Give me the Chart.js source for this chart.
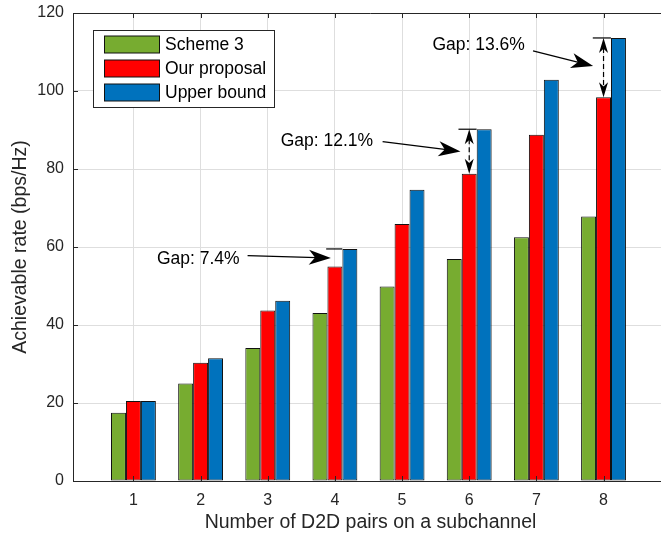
<!DOCTYPE html>
<html>
<head>
<meta charset="utf-8">
<style>
  html, body { margin: 0; padding: 0; background: #fff; overflow: hidden; }
</style>
<script src="https://cdn.jsdelivr.net/npm/chart.js@4.4.1/dist/chart.umd.min.js"></script>
</head>
<body>
<canvas id="myChart" width="668" height="540"></canvas>
<script>
"use strict"

// DATA
const categories = [1, 2, 3, 4, 5, 6, 7, 8];
const scheme3 = [17.5, 25.0, 34.1, 43.1, 49.9, 56.9, 62.5, 67.8];
const ourProposal = [20.5, 30.3, 43.7, 55.0, 65.9, 78.8, 88.8, 98.4];
const upperBound = [20.5, 31.5, 46.2, 59.5, 74.7, 90.2, 102.9, 113.6];
const seriesNames = ['Scheme 3', 'Our proposal', 'Upper bound'];
const yTicks = [0, 20, 40, 60, 80, 100, 120];

const gapLabels = ['Gap: 7.4%', 'Gap: 12.1%', 'Gap: 13.6%'];
const gapGroups = [4, 6, 8];

// annotation placement (data units)
const gapNotes = [
    { label: 0, textAt: [1.965, 56.8], from: [2.70, 57.8], to: [3.94, 57.2], lineFrom: -0.13, double: false },
    { label: 1, textAt: [3.88, 87.2], from: [4.71, 87.0], to: [5.87, 84.5], lineFrom: -0.16, double: true },
    { label: 2, textAt: [6.14, 111.8], from: [6.95, 110.3], to: [7.845, 106.4], lineFrom: -0.16, double: true }
];

const FONT = '"Liberation Sans", Arial, Helvetica, sans-serif';
const AXIS = '#262626';

function toPoints(values) {
    return values.map((v, i) => ({ x: categories[i], y: v }));
}

// filled arrow head with a notched back
function arrowHead(ctx, tx, ty, angle, len, wid) {
    let dx = Math.cos(angle), dy = Math.sin(angle);
    let px = -dy, py = dx;
    ctx.beginPath();
    ctx.moveTo(tx, ty);
    ctx.lineTo(tx - dx * len + px * wid / 2, ty - dy * len + py * wid / 2);
    ctx.lineTo(tx - dx * len * 0.72, ty - dy * len * 0.72);
    ctx.lineTo(tx - dx * len - px * wid / 2, ty - dy * len - py * wid / 2);
    ctx.closePath();
    ctx.fill();
}

const framePlugin = {
    id: 'frame',
    afterDatasetsDraw(chart) {
        let ctx = chart.ctx;
        let a = chart.chartArea;
        let xs = chart.scales.x, ys = chart.scales.y;
        ctx.save();
        ctx.strokeStyle = AXIS;
        ctx.lineWidth = 1;
        // top box line
        ctx.beginPath();
        ctx.moveTo(a.left, Math.round(a.top) + 0.5);
        ctx.lineTo(a.right, Math.round(a.top) + 0.5);
        ctx.stroke();
        // inward tick marks
        ctx.beginPath();
        yTicks.forEach(t => {
            let y = Math.round(ys.getPixelForValue(t)) + 0.5;
            ctx.moveTo(a.left, y);
            ctx.lineTo(a.left + 5, y);
        });
        categories.forEach(c => {
            let x = Math.round(xs.getPixelForValue(c)) + 0.5;
            ctx.moveTo(x, a.bottom);
            ctx.lineTo(x, a.bottom - 5);
            ctx.moveTo(x, a.top);
            ctx.lineTo(x, a.top + 5);
        });
        ctx.stroke();

        // GAP ANNOTATIONS
        ctx.fillStyle = '#000';
        ctx.strokeStyle = '#000';
        ctx.font = '17.5px ' + FONT;
        ctx.textAlign = 'center';
        ctx.textBaseline = 'middle';
        gapNotes.forEach(n => {
            let g = gapGroups[n.label];
            let idx = categories.indexOf(g);
            let topY = ys.getPixelForValue(upperBound[idx]);
            let redY = ys.getPixelForValue(ourProposal[idx]);
            let cx = xs.getPixelForValue(g);

            ctx.fillText(gapLabels[n.label], xs.getPixelForValue(n.textAt[0]), ys.getPixelForValue(n.textAt[1]));

            // level line of the upper bound
            ctx.lineWidth = 1.2;
            ctx.setLineDash([]);
            ctx.beginPath();
            ctx.moveTo(xs.getPixelForValue(g + n.lineFrom), topY);
            ctx.lineTo(xs.getPixelForValue(g + 0.11), topY);
            ctx.stroke();

            // pointer arrow
            let x1 = xs.getPixelForValue(n.from[0]), y1 = ys.getPixelForValue(n.from[1]);
            let x2 = xs.getPixelForValue(n.to[0]), y2 = ys.getPixelForValue(n.to[1]);
            let ang = Math.atan2(y2 - y1, x2 - x1);
            ctx.beginPath();
            ctx.moveTo(x1, y1);
            ctx.lineTo(x2 - Math.cos(ang) * 14, y2 - Math.sin(ang) * 14);
            ctx.stroke();
            arrowHead(ctx, x2, y2, ang, 22, 15);

            // double arrow between red and blue tops
            if (n.double) {
                ctx.setLineDash([5, 3]);
                ctx.beginPath();
                ctx.moveTo(cx, topY + 10);
                ctx.lineTo(cx, redY - 10);
                ctx.stroke();
                ctx.setLineDash([]);
                arrowHead(ctx, cx, topY, -Math.PI / 2, 15, 9);
                arrowHead(ctx, cx, redY, Math.PI / 2, 15, 9);
            }
        });
        ctx.restore();
    },
    afterDraw(chart) {
        // LEGEND BOX IN THE CORNER
        let ctx = chart.ctx;
        ctx.save();
        ctx.fillStyle = '#fff';
        ctx.fillRect(93.5, 30.5, 181, 77);
        ctx.strokeStyle = AXIS;
        ctx.lineWidth = 1;
        ctx.strokeRect(93.5, 30.5, 181, 77);
        ctx.font = '17.5px ' + FONT;
        ctx.textAlign = 'left';
        ctx.textBaseline = 'middle';
        chart.data.datasets.forEach((ds, i) => {
            let cy = 44.5 + i * 24;
            ctx.fillStyle = ds.backgroundColor;
            ctx.fillRect(104.5, cy - 8.5, 55, 17);
            ctx.strokeStyle = '#111';
            ctx.strokeRect(104.5, cy - 8.5, 55, 17);
            ctx.fillStyle = '#000';
            ctx.fillText(ds.label, 165, cy + 1);
        });
        ctx.restore();
    }
};

let data = {
    datasets: [
        { label: seriesNames[0], data: toPoints(scheme3), backgroundColor: '#77AC30' },
        { label: seriesNames[1], data: toPoints(ourProposal), backgroundColor: '#FF0000' },
        { label: seriesNames[2], data: toPoints(upperBound), backgroundColor: '#0072BD' }
    ].map(d => Object.assign(d, {
        borderColor: '#111',
        borderWidth: 1,
        borderSkipped: false,
        categoryPercentage: 0.668,
        barPercentage: 1.0
    }))
};

let config = {
    type: 'bar',
    data: data,
    options: {
        responsive: false,
        animation: false,
        layout: { padding: { top: 13, left: 0, right: 0, bottom: 0 } },
        plugins: {
            legend: { display: false },
            tooltip: { enabled: false }
        },
        scales: {
            x: {
                type: 'linear',
                offset: false,
                min: 0.1,
                max: 8.96,
                afterFit: s => { s.height = 59; s.paddingLeft = 0; s.paddingRight = 0; },
                afterBuildTicks: s => { s.ticks = categories.map(c => ({ value: c })); },
                ticks: {
                    stepSize: 1,
                    includeBounds: false,
                    padding: 10,
                    color: AXIS,
                    font: { family: FONT, size: 16 },
                    callback: v => String(v)
                },
                grid: { color: '#dedede', drawTicks: false, offset: false },
                border: { display: true, color: AXIS, width: 1 },
                title: {
                    display: true,
                    text: 'Number of D2D pairs on a subchannel',
                    color: AXIS,
                    font: { family: FONT, size: 19.5 },
                    padding: { top: 0, bottom: 6 }
                }
            },
            y: {
                min: 0,
                max: 120,
                afterFit: s => { s.width = 73; s.paddingTop = 0; s.paddingBottom = 0; },
                afterBuildTicks: s => { s.ticks = yTicks.map(t => ({ value: t })); },
                ticks: {
                    padding: 9,
                    color: AXIS,
                    font: { family: FONT, size: 16 }
                },
                grid: { color: '#dedede', drawTicks: false },
                border: { display: true, color: AXIS, width: 1 },
                title: {
                    display: true,
                    text: 'Achievable rate (bps/Hz)',
                    color: AXIS,
                    font: { family: FONT, size: 19.5 },
                    padding: { top: 9, bottom: 0 }
                }
            }
        }
    },
    plugins: [framePlugin]
};

let myChart = new Chart(document.getElementById('myChart'), config);
</script>
</body>
</html>
